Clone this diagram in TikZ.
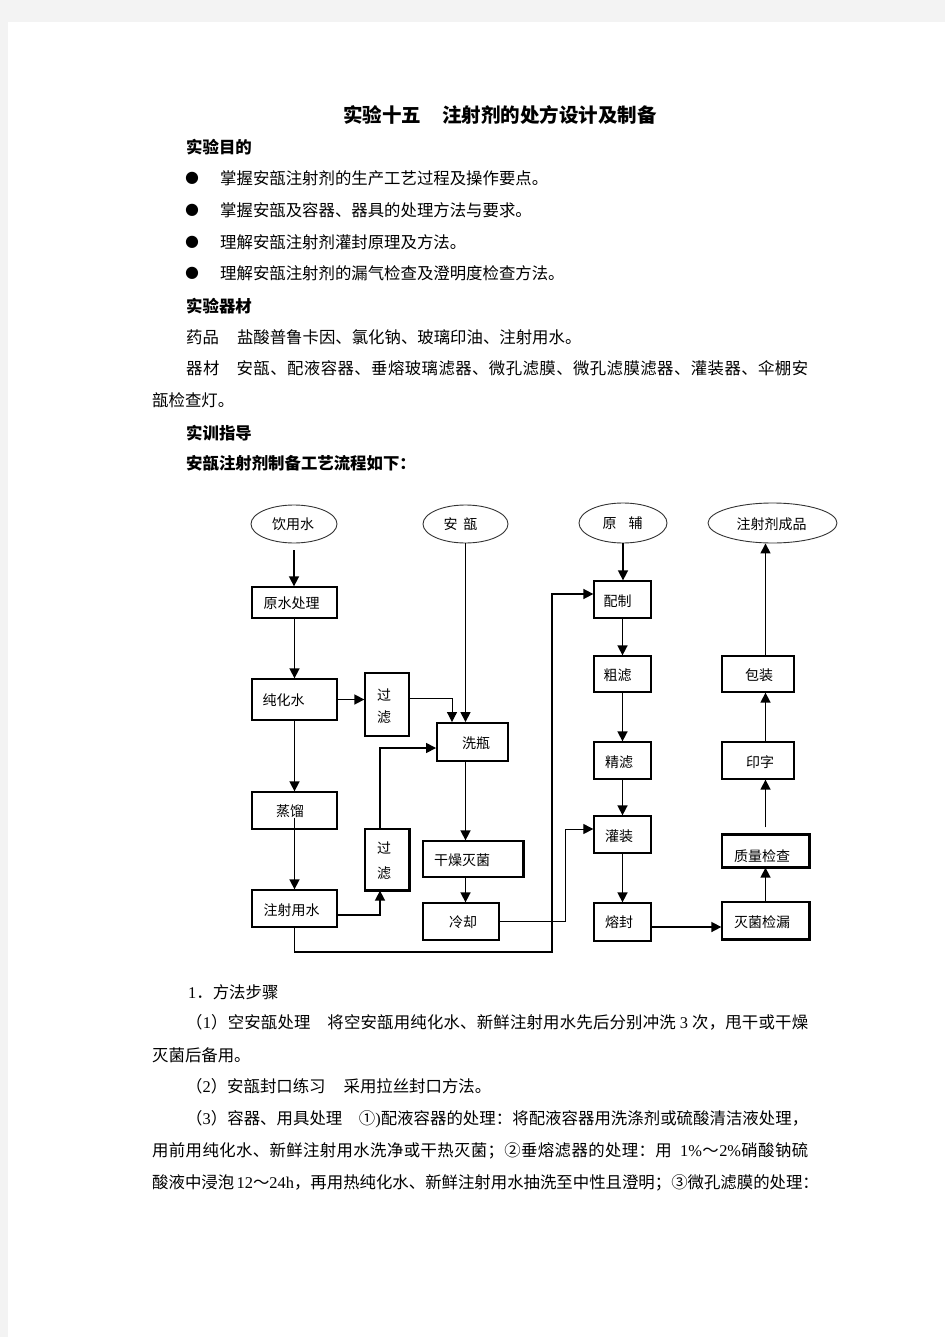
\documentclass[tikz,border=0pt]{standalone}
\usepackage{fontspec}
\setmainfont{Liberation Serif}
\newfontfamily\cjk{Noto Sans CJK SC}
\newfontfamily\tnr{Liberation Serif}
\newfontfamily\dvs{DejaVu Sans}
\usetikzlibrary{shapes.geometric,arrows.meta}
\definecolor{pagegray}{HTML}{F3F3F3}
\ExplSyntaxOn
\NewDocumentCommand\jline{mm}{\makebox[#1][s]{\tl_map_inline:nn{#2}{##1\hfil}\unskip}}
\ExplSyntaxOff
\tikzset{
  body/.style={inner sep=0pt, anchor=west, font=\cjk\fontsize{16.4}{18}\selectfont, text height=14.4pt, text depth=2pt},
  head/.style={body, font=\cjk\bfseries\fontsize{16.4}{18}\selectfont},
  ttl/.style={inner sep=0pt, font=\cjk\bfseries\fontsize{19.5}{22}\selectfont, text height=17.2pt, text depth=2.3pt},
  bul/.style={inner sep=0pt, font=\dvs\fontsize{16}{18}\selectfont},
  box/.style={draw, line width=1.3pt, inner sep=0pt},
  oval/.style={draw=black!80, ellipse, line width=0.9pt, inner sep=0pt},
  lbl/.style={inner sep=0pt, font=\cjk\fontsize{14}{16}\selectfont, text height=12.3pt, text depth=1.7pt},
  conn/.style={line width=1.6pt, -{Triangle[length=10pt,width=10pt]}},
  thinconn/.style={conn, line width=1pt},
  edge2/.style={line width=2.2pt},
}
\newcommand\bx[6][]{\node[box,#1, minimum width={#5-#3}, minimum height={#6-#4}] (#2) at ({(#3+#5)/2},{(#4+#6)/2}) {};}
\begin{document}
\begin{tikzpicture}[x=1pt,y=-1pt]
\useasboundingbox (0,0) rectangle (945,1337);
\fill[pagegray] (0,0) rectangle (945,1337);
\fill[white] (8,22) rectangle (945,1337);

% ---------- header text ----------
\node[ttl] (title) at (500,115) {实验十五\hspace{1.1em}注射剂的处方设计及制备};
\node[head] (h1) at (186,147) {实验目的};
\node[bul] (b1) at (192,178) {●};
\node[bul] (b2) at (192,210) {●};
\node[bul] (b3) at (192,242) {●};
\node[bul] (b4) at (192,273) {●};
\node[body] (l1) at (220,178) {掌握安瓿注射剂的生产工艺过程及操作要点。};
\node[body] (l2) at (220,210) {掌握安瓿及容器、器具的处理方法与要求。};
\node[body] (l3) at (220,242) {理解安瓿注射剂灌封原理及方法。};
\node[body] (l4) at (220,273) {理解安瓿注射剂的漏气检查及澄明度检查方法。};
\node[head] (h2) at (186,306) {实验器材};
\node[body] (l5) at (186,337) {药品\hspace{1.1em}盐酸普鲁卡因、氯化钠、玻璃印油、注射用水。};
\node[body] (l6) at (186,368) {\jline{622pt}{器材　安瓿、配液容器、垂熔玻璃滤器、微孔滤膜、微孔滤膜滤器、灌装器、伞棚安}};
\node[body] (l7) at (152,400) {瓿检查灯。};
\node[head] (h3) at (186,433) {实训指导};
\node[head] (h4) at (186,463) {安瓿注射剂制备工艺流程如下：};

% ---------- flowchart: ellipses ----------
\node[oval, minimum width=86pt, minimum height=38pt] (yys) at (294,524) {};
\node[lbl] (yys-t) at (293,524) {饮用水};
\node[oval, minimum width=85pt, minimum height=38pt] (ap) at (465.5,524) {};
\node[lbl] (ap-t) at (460.5,524) {安\hspace{6pt}瓿};
\node[oval, minimum width=88pt, minimum height=40pt] (yf) at (623,523) {};
\node[lbl] (yf-t) at (622.5,523) {原\hspace{12pt}辅};
\node[oval, minimum width=129pt, minimum height=40pt] (cp) at (772.5,523) {};
\node[lbl] (cp-t) at (771.5,524) {注射剂成品};

% ---------- flowchart: boxes ----------
\bx{ys}{252}{587}{337}{618}
\node[lbl] (ys-t) at (291.5,603) {原水处理};
\bx{ch}{252}{679}{337}{720}
\node[lbl] (ch-t) at (283.5,700) {纯化水};
\bx{gla}{365}{673}{409}{736}
\node[lbl] (gla-t) at (384,695) {过};
\node[lbl] (gla-u) at (384,717) {滤};
\bx[line width=1.9pt]{xp}{437}{723}{508}{761}
\node[lbl] (xp-t) at (476,743) {洗瓶};
\bx{zl}{252}{792}{337}{829}
\node[lbl] (zl-t) at (290,811) {蒸馏};
\bx{glb}{365}{829}{409}{890}
\node[lbl] (glb-t) at (384,848) {过};
\node[lbl] (glb-u) at (384,873) {滤};
\bx{zs}{252}{890}{337}{927}
\node[lbl] (zs-t) at (291.5,910) {注射用水};
\bx{gz}{423}{841}{523}{877}
\node[lbl] (gz-t) at (462,860) {干燥灭菌};
\bx{lq}{423}{903}{499}{940}
\node[lbl] (lq-t) at (463,922) {冷却};
\bx{pz}{594}{581}{651}{618}
\node[lbl] (pz-t) at (617.5,601) {配制};
\bx{cl}{594}{656}{651}{692}
\node[lbl] (cl-t) at (617.5,675) {粗滤};
\bx{jl}{594}{742}{651}{779}
\node[lbl] (jl-t) at (619,762) {精滤};
\bx{gzh}{594}{816}{651}{853}
\node[lbl] (gzh-t) at (619,836) {灌装};
\bx{rf}{594}{903}{651}{941}
\node[lbl] (rf-t) at (619,922) {熔封};
\bx{mj}{722}{902}{809}{939}
\node[lbl] (mj-t) at (762,922) {灭菌检漏};
\bx{zj}{722}{835}{809}{867}
\node[lbl] (zj-t) at (762,856) {质量检查};
\bx{yz}{722}{742}{794}{779}
\node[lbl] (yz-t) at (760,762) {印字};
\bx{bz}{722}{656}{794}{692}
\node[lbl] (bz-t) at (759,675) {包装};

% heavier right/bottom edges
\draw[edge2] (gz.north east) -- (gz.south east);
\draw[edge2] (mj.north east) -- (mj.south east) -- (mj.south west);
\draw[edge2] (zj.north west) -- (zj.north east) -- (zj.south east) -- (zj.south west);
\draw[edge2] (glb.north east) -- (glb.south east) -- (glb.south west);

% ---------- connectors ----------
\coordinate (k1) at (452,698);
\coordinate (k2) at (380,915);
\coordinate (k3) at (380,748);
\coordinate (k4) at (565,921.5);
\coordinate (k5) at (565,829);
\coordinate (k6) at (552,952);
\coordinate (k7) at (552,594);

\draw[conn, shorten <=7pt] (yys.south) -- (yys.south |- ys.north);
\draw[conn] (ys.south) -- (ys.south |- ch.north);
\draw[conn] (ch.east) -- (ch.east -| gla.west);
\draw[thinconn] (gla.east |- k1) -- (k1) -- (k1 |- xp.north);
\draw[conn] (ap.south) -- (ap.south |- xp.north);
\draw[conn] (ch.south) -- (ch.south |- zl.north);
\draw[conn] ([yshift=-7pt]zl.center) -- (zl.center |- zs.north);
\draw[conn] (zs.east |- k2) -- (k2) -- (k2 |- glb.south);
\draw[conn] (k2 |- glb.north) -- (k3) -- (k3 -| xp.west);
\draw[conn] (ap.south |- xp.south) -- (ap.south |- gz.north);
\draw[conn] (ap.south |- gz.south) -- (ap.south |- lq.north);
\draw[thinconn] (lq.east) -- (k4) -- (k5) -- (k5 -| gzh.west);
\draw[conn] (zs.south) -- (zs.south |- k6) -- (k6) -- (k7) -- (k7 -| pz.west);
\draw[conn] (yf.south) -- (yf.south |- pz.north);
\draw[conn] (pz.south) -- (pz.south |- cl.north);
\draw[conn] (cl.south) -- (cl.south |- jl.north);
\draw[conn] (jl.south) -- (jl.south |- gzh.north);
\draw[conn] (gzh.south) -- (gzh.south |- rf.north);
\draw[conn] ([yshift=-5pt]rf.east) -- ([yshift=-5pt]rf.east -| mj.west);
\draw[conn] (mj.north) -- (mj.north |- zj.south);
\draw[conn, shorten <=7pt] (zj.north) -- (zj.north |- yz.south);
\draw[conn] (zj.north |- yz.north) -- (zj.north |- bz.south);
\draw[conn] (zj.north |- bz.north) -- (zj.north |- cp.south);

% ---------- lower text ----------
\node[body] (m1) at (188,992) {{\tnr 1}．方法步骤};
\node[body] (m2) at (186,1022) {\jline{622pt}{（{{\tnr 1}}）空安瓿处理　将空安瓿用纯化水、新鲜注射用水先后分别冲洗~{{\tnr 3}}~次，甩干或干燥}};
\node[body] (m3) at (152,1055) {灭菌后备用。};
\node[body] (m4) at (186,1086) {（{\tnr 2}）安瓿封口练习\hspace{1.1em}采用拉丝封口方法。};
\node[body] (m5) at (186,1118) {\jline{622pt}{（{{\tnr 3}}）容器、用具处理　①{{\tnr )}}配液容器的处理：将配液容器用洗涤剂或硫酸清洁液处理，}};
\node[body] (m6) at (152,1150) {\jline{656pt}{用前用纯化水、新鲜注射用水洗净或干热灭菌；②垂熔滤器的处理：用~~{{\tnr 1\%}}～{{\tnr 2\%}}硝酸钠硫}};
\node[body] (m7) at (152,1182) {\jline{658pt}{酸液中浸泡~{{\tnr 12}}～{{\tnr 24h}}，再用热纯化水、新鲜注射用水抽洗至中性且澄明；③微孔滤膜的处理：}};
\end{tikzpicture}
\end{document}
